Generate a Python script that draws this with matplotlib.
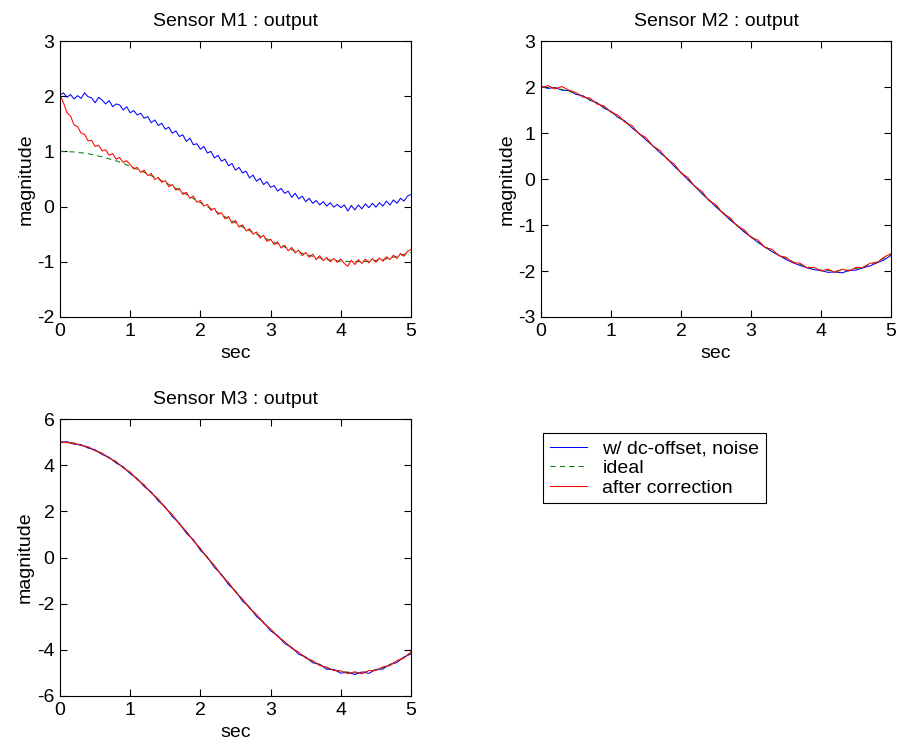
import numpy as np
import matplotlib
matplotlib.use("Agg")
import matplotlib.pyplot as plt

plt.rcParams['font.family'] = ['Liberation Sans', 'DejaVu Sans']
plt.rcParams['axes.unicode_minus'] = False

# time axes (sec)
t_fine = np.arange(101) * 0.05
t_mid = np.arange(51) * 0.1
t_ideal = np.arange(26) * 0.2

# Sensor M1
m1_ideal = [1.00, 0.99, 0.96, 0.90, 0.83, 0.73, 0.62, 0.50, 0.37, 0.22, 0.07, -0.07, -0.22,
            -0.37, -0.50, -0.62, -0.73, -0.83, -0.90, -0.96, -0.99, -1.00, -0.99, -0.96, -0.90, -0.83]
m1_noisy = [2.02, 2.06, 1.98, 2.03, 1.95, 2.01, 1.96, 2.06, 1.99, 1.97, 1.88, 1.98, 1.93, 1.86, 1.92,
            1.81, 1.86, 1.84, 1.75, 1.81, 1.70, 1.74, 1.66, 1.69, 1.60, 1.63, 1.52, 1.57, 1.47, 1.51,
            1.40, 1.44, 1.33, 1.37, 1.27, 1.30, 1.18, 1.24, 1.12, 1.14, 1.04, 1.09, 0.97, 1.00, 0.88,
            0.93, 0.82, 0.86, 0.74, 0.78, 0.66, 0.71, 0.61, 0.64, 0.52, 0.57, 0.46, 0.51, 0.40, 0.45,
            0.35, 0.38, 0.28, 0.33, 0.24, 0.28, 0.17, 0.24, 0.14, 0.19, 0.09, 0.15, 0.06, 0.11, 0.03,
            0.09, 0.01, 0.07, -0.01, 0.04, -0.02, 0.03, -0.08, 0.02, -0.06, 0.03, -0.04, 0.05, -0.02,
            0.06, -0.01, 0.07, 0.01, 0.10, 0.03, 0.12, 0.06, 0.15, 0.10, 0.19, 0.22]
m1_corr = [2.02, 1.88, 1.70, 1.64, 1.48, 1.45, 1.33, 1.31, 1.19, 1.20, 1.09, 1.11, 1.01, 1.03, 0.93,
           0.96, 0.86, 0.89, 0.80, 0.83, 0.76, 0.68, 0.71, 0.62, 0.66, 0.56, 0.60, 0.49, 0.53, 0.44,
           0.47, 0.36, 0.40, 0.30, 0.33, 0.22, 0.26, 0.15, 0.19, 0.08, 0.11, 0.01, 0.04, -0.07, -0.03,
           -0.14, -0.11, -0.22, -0.18, -0.30, -0.25, -0.37, -0.33, -0.44, -0.40, -0.50, -0.46, -0.57,
           -0.52, -0.63, -0.59, -0.69, -0.64, -0.75, -0.70, -0.80, -0.74, -0.84, -0.79, -0.89, -0.83,
           -0.92, -0.86, -0.96, -0.89, -0.98, -0.92, -1.00, -0.94, -1.01, -0.95, -1.03, -1.08, -0.97,
           -1.05, -0.96, -1.03, -0.95, -1.02, -0.94, -1.01, -0.93, -0.99, -0.91, -0.96, -0.88, -0.94,
           -0.85, -0.90, -0.81, -0.78]

# Sensor M2
m2_ideal = [2.00, 1.98, 1.91, 1.80, 1.65, 1.47, 1.25, 1.00, 0.73, 0.45, 0.15, -0.15, -0.45,
            -0.73, -1.00, -1.25, -1.47, -1.65, -1.80, -1.91, -1.98, -2.00, -1.98, -1.91, -1.80, -1.65]
m2_noisy = [2.01, 1.97, 1.99, 1.93, 1.92, 1.84, 1.81, 1.71, 1.66, 1.54, 1.47, 1.34, 1.26, 1.11, 0.99,
            0.85, 0.72, 0.57, 0.45, 0.28, 0.14, -0.02, -0.16, -0.32, -0.46, -0.61, -0.74, -0.89, -1.01,
            -1.15, -1.26, -1.38, -1.48, -1.58, -1.66, -1.75, -1.82, -1.88, -1.93, -1.97, -1.99, -2.03,
            -2.02, -2.04, -1.99, -1.98, -1.93, -1.89, -1.82, -1.76, -1.66]
m2_corr = [1.98, 2.03, 1.96, 2.01, 1.93, 1.88, 1.78, 1.76, 1.63, 1.59, 1.45, 1.39, 1.23, 1.16, 0.98,
           0.90, 0.71, 0.62, 0.43, 0.33, 0.13, 0.03, -0.17, -0.27, -0.47, -0.56, -0.75, -0.84, -1.02,
           -1.10, -1.27, -1.33, -1.49, -1.53, -1.67, -1.70, -1.82, -1.83, -1.93, -1.92, -2.00, -1.96,
           -2.03, -1.96, -2.00, -1.92, -1.93, -1.83, -1.82, -1.70, -1.62]

# Sensor M3
m3_ideal = [5.00, 4.94, 4.78, 4.50, 4.13, 3.67, 3.12, 2.50, 1.83, 1.11, 0.37, -0.37, -1.11,
            -1.83, -2.50, -3.12, -3.67, -4.13, -4.50, -4.78, -4.94, -5.00, -4.94, -4.78, -4.50, -4.13]
m3_noisy = [4.97, 5.02, 4.91, 4.89, 4.74, 4.67, 4.46, 4.34, 4.09, 3.93, 3.63, 3.42, 3.07, 2.84, 2.45,
            2.19, 1.77, 1.49, 1.05, 0.77, 0.31, 0.02, -0.43, -0.73, -1.17, -1.45, -1.89, -2.15, -2.56,
            -2.80, -3.18, -3.38, -3.73, -3.89, -4.19, -4.31, -4.56, -4.63, -4.84, -4.85, -5.01, -4.97,
            -5.07, -4.96, -5.02, -4.85, -4.83, -4.63, -4.55, -4.31, -4.18]
m3_corr = [5.03, 4.97, 4.96, 4.85, 4.80, 4.62, 4.53, 4.30, 4.16, 3.88, 3.70, 3.37, 3.15, 2.79, 2.54,
           2.14, 1.86, 1.44, 1.14, 0.72, 0.40, -0.03, -0.34, -0.78, -1.08, -1.50, -1.80, -2.20, -2.47,
           -2.85, -3.09, -3.43, -3.64, -3.94, -4.10, -4.36, -4.47, -4.68, -4.75, -4.90, -4.91, -5.03,
           -4.95, -5.04, -4.90, -4.90, -4.74, -4.68, -4.47, -4.36, -4.09]

legend_labels = ['w/ dc-offset, noise', 'ideal', 'after correction']

FS = 14
W, H = 897, 747
fig = plt.figure(figsize=(W / 100, H / 100), dpi=100)


def add_ax(left, top, right, bottom):
    return fig.add_axes([left / W, 1 - bottom / H, (right - left) / W, (bottom - top) / H])


def sensor_plot(ax, name, t_n, noisy, ideal, corr, ylim, yticks):
    l1, = ax.plot(t_n, noisy, color='#0000ff', lw=0.75)
    l2, = ax.plot(t_ideal, ideal, color='#008000', lw=0.75, ls=(0, (5, 4)))
    l3, = ax.plot(t_n, corr, color='#ff0000', lw=0.75)
    ax.set_xlim(0, 5)
    ax.set_ylim(*ylim)
    ax.set_xticks(range(6))
    ax.set_yticks(yticks)
    ax.tick_params(direction='in', top=True, right=True, length=5, width=0.8,
                   labelsize=FS, pad=4)
    for s in ax.spines.values():
        s.set_linewidth(0.8)
    ax.set_title('Sensor ' + name + ' : output', fontsize=FS, pad=11)
    ax.set_xlabel('sec', fontsize=FS, labelpad=4)
    ax.set_ylabel('magnitude', fontsize=FS, labelpad=2)
    return [l1, l2, l3]


ax1 = add_ax(60, 41, 411, 317)
sensor_plot(ax1, 'M1', t_fine, m1_noisy, m1_ideal, m1_corr, (-2, 3), range(-2, 4))

ax2 = add_ax(541, 41, 891, 317)
sensor_plot(ax2, 'M2', t_mid, m2_noisy, m2_ideal, m2_corr, (-3, 3), range(-3, 4))

ax3 = add_ax(60, 419, 411, 696)
handles = sensor_plot(ax3, 'M3', t_mid, m3_noisy, m3_ideal, m3_corr, (-6, 6), range(-6, 7, 2))

# legend sits where the 4th subplot would be
leg = fig.legend(handles, legend_labels, loc='upper left',
                 bbox_to_anchor=(543 / W, 1 - 433 / H), fontsize=FS,
                 frameon=True, fancybox=False, edgecolor='black', framealpha=1,
                 borderaxespad=0, handlelength=1.9, borderpad=0.35, labelspacing=0.1,
                 handletextpad=0.8)
leg.get_frame().set_linewidth(0.8)

fig.savefig('out.png', dpi=100)
